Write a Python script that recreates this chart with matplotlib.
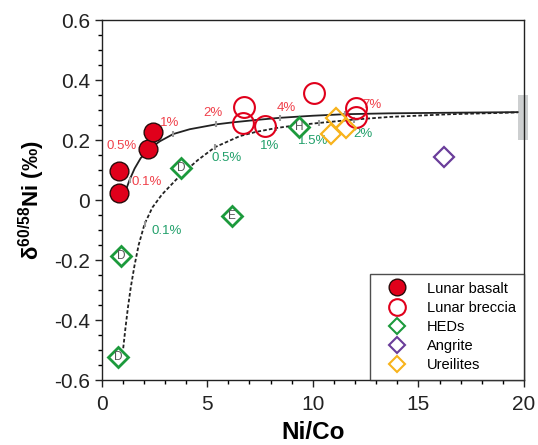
import matplotlib
matplotlib.use("Agg")
import matplotlib.pyplot as plt
from matplotlib.patches import Rectangle
from matplotlib.lines import Line2D

plt.rcParams['font.family'] = ['Liberation Sans', 'DejaVu Sans']
plt.rcParams['mathtext.fontset'] = 'custom'
plt.rcParams['mathtext.rm'] = 'Liberation Sans'
plt.rcParams['mathtext.bf'] = 'Liberation Sans:bold'

# ---- data ----
basalt_x = [0.83, 0.83, 2.20, 2.41]
basalt_y = [0.097, 0.022, 0.169, 0.228]

breccia_x = [6.74, 6.67, 7.75, 10.04, 12.05, 12.02]
breccia_y = [0.311, 0.258, 0.247, 0.358, 0.306, 0.278]

hed_x = [3.75, 6.15, 9.34, 0.91, 0.79]
hed_y = [0.106, -0.053, 0.242, -0.187, -0.522]
hed_letters = ['D', 'E', 'H', 'D', 'D']

angrite_x = [16.23]
angrite_y = [0.144]

ureilite_x = [11.08, 10.87, 11.58]
ureilite_y = [0.272, 0.219, 0.239]

# mixing curves
solid_x = [1.00, 1.09, 1.32, 1.56, 1.85, 2.28, 2.76, 3.39, 4.17, 5.40, 6.22, 7.33,
           8.43, 10.0, 11.5, 13.63, 16.5, 19.7]
solid_y = [0.000, 0.022, 0.067, 0.105, 0.140, 0.172, 0.196, 0.220, 0.236, 0.252, 0.259, 0.267,
           0.274, 0.281, 0.286, 0.289, 0.291, 0.293]

dash_x = [1.02, 1.12, 1.24, 1.38, 1.55, 1.75, 2.03, 2.40, 2.85, 3.69, 4.55, 5.36, 6.54,
          7.3, 8.27, 9.2, 10.3, 11.93, 13.63, 16.5, 19.7]
dash_y = [-0.494, -0.430, -0.360, -0.290, -0.220, -0.150, -0.080, -0.025, 0.018, 0.080, 0.133,
          0.176, 0.213, 0.227, 0.240, 0.249, 0.257, 0.268, 0.277, 0.286, 0.292]

solid_tick_x = [1.32, 2.28, 3.39, 5.40, 8.43, 11.5]
solid_tick_y = [0.067, 0.172, 0.220, 0.252, 0.274, 0.286]
solid_labels = ['0.1%', '0.5%', '1%', '2%', '4%', '7%']
solid_label_x = [2.13, 0.94, 3.23, 5.28, 8.75, 12.81]
solid_label_y = [0.061, 0.180, 0.258, 0.291, 0.308, 0.317]

dash_tick_x = [2.03, 5.36, 8.27, 10.3, 11.93]
dash_tick_y = [-0.080, 0.176, 0.240, 0.257, 0.268]
dash_labels = ['0.1%', '0.5%', '1%', '1.5%', '2%']
dash_label_x = [3.07, 5.91, 7.96, 10.0, 12.37]
dash_label_y = [-0.102, 0.141, 0.180, 0.197, 0.220]

# ---- figure ----
fig = plt.figure(figsize=(5.38, 4.45), dpi=100)
ax = fig.add_axes([0.189, 0.146, 0.785, 0.809])
ax.set_xlim(0, 20)
ax.set_ylim(-0.6, 0.6)

RED = '#e0001b'
GREEN = '#1c9a3c'
PURPLE = '#6a3d9a'
ORANGE = '#f8b31c'
SOLID_LBL = '#f0404a'
DASH_LBL = '#22a06b'

# grey bar at right edge
ax.add_patch(Rectangle((19.7, 0.20), 0.5, 0.15, facecolor='#cdcfd0',
                       edgecolor='none', clip_on=False, zorder=1))

ax.plot(solid_x, solid_y, '-', color='#222222', lw=1.3, zorder=2)
ax.plot(dash_x, dash_y, '--', color='#222222', lw=1.3, dashes=(2, 1.2), zorder=2)
ax.plot(solid_tick_x, solid_tick_y, '|', color='#9a9a9a', ms=5, mew=1.5, zorder=3)
ax.plot(dash_tick_x, dash_tick_y, '|', color='#9a9a9a', ms=5, mew=1.5, zorder=3)

for t, x, y in zip(solid_labels, solid_label_x, solid_label_y):
    ax.text(x, y, t, color=SOLID_LBL, fontsize=9.5, ha='center', va='center', zorder=4)
for t, x, y in zip(dash_labels, dash_label_x, dash_label_y):
    ax.text(x, y, t, color=DASH_LBL, fontsize=9.5, ha='center', va='center', zorder=4)

ax.plot(basalt_x, basalt_y, 'o', ms=13.5, mfc=RED, mec='#2a0a0a', mew=1.0, zorder=5)
ax.plot(breccia_x, breccia_y, 'o', ms=15, mfc='none', mec=RED, mew=1.5, zorder=5)
ax.plot(hed_x, hed_y, 'D', ms=10, mfc='white', mec=GREEN, mew=2.0, zorder=5)
for t, x, y in zip(hed_letters, hed_x, hed_y):
    ax.text(x, y, t, color='#555555', fontsize=8.5, ha='center', va='center', zorder=6)
ax.plot(angrite_x, angrite_y, 'D', ms=10, mfc='none', mec=PURPLE, mew=1.6, zorder=5)
ax.plot(ureilite_x, ureilite_y, 'D', ms=10, mfc='none', mec=ORANGE, mew=1.6, zorder=5)

# ticks
ax.set_xticks([0, 5, 10, 15, 20])
ax.set_xticks(range(0, 21), minor=True)
ax.set_yticks([-0.6, -0.4, -0.2, 0, 0.2, 0.4, 0.6])
ax.set_yticklabels(['-0.6', '-0.4', '-0.2', '0', '0.2', '0.4', '0.6'])
ax.set_yticks([i * 0.05 - 0.6 for i in range(25)], minor=True)
ax.tick_params(axis='both', which='major', direction='out', length=5, width=1,
               labelsize=15, colors='#222222')
ax.tick_params(axis='both', which='minor', direction='out', length=3, width=1)
ax.tick_params(axis='x', pad=6)
for s in ax.spines.values():
    s.set_linewidth(1.0)
    s.set_color('#222222')

ax.set_xlabel('Ni/Co', fontsize=17.5, fontweight='bold', labelpad=5)
ax.set_ylabel(r'$\mathbf{\delta^{60/58}}$Ni (‰)', fontsize=16, fontweight='bold', labelpad=5)

handles = [
    Line2D([], [], ls='none', marker='o', ms=12, mfc=RED, mec='#2a0a0a', mew=1.0),
    Line2D([], [], ls='none', marker='o', ms=12, mfc='none', mec=RED, mew=1.5),
    Line2D([], [], ls='none', marker='D', ms=8, mfc='none', mec=GREEN, mew=1.5),
    Line2D([], [], ls='none', marker='D', ms=8, mfc='none', mec=PURPLE, mew=1.5),
    Line2D([], [], ls='none', marker='D', ms=8, mfc='none', mec=ORANGE, mew=1.5),
]
labels = ['Lunar basalt', 'Lunar breccia', 'HEDs', 'Angrite', 'Ureilites']
leg = ax.legend(handles, labels, loc='lower right', bbox_to_anchor=(1.0, 0.0),
                frameon=True, fancybox=False, fontsize=10.5, borderpad=0.55,
                handletextpad=0.75, labelspacing=0.35, borderaxespad=0,
                handlelength=2.6)
leg.get_frame().set_edgecolor('#222222')
leg.get_frame().set_linewidth(1.0)

fig.savefig('out.png', dpi=100)
